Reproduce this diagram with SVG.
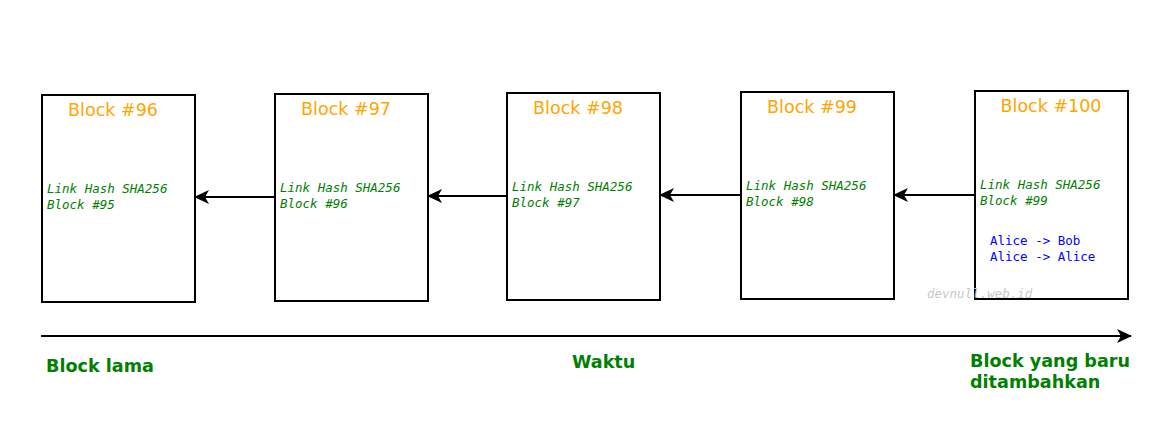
<svg xmlns="http://www.w3.org/2000/svg" width="1162" height="430" viewBox="0 0 1162 430">
<defs>
<style>
.box{fill:#fff;stroke:#000;stroke-width:2}
.title{font-family:"DejaVu Sans",sans-serif;font-size:17.5px;fill:#FFA500;text-anchor:middle}
.hash{font-family:"DejaVu Sans Mono",monospace;font-style:italic;font-size:12.5px;fill:#008000}
.tx{font-family:"DejaVu Sans Mono",monospace;font-size:12.5px;fill:#0000FF}
.wm{font-family:"DejaVu Sans Mono",monospace;font-style:italic;font-size:12.5px;fill:#C8C8C8}
.lbl{font-family:"DejaVu Sans",sans-serif;font-weight:bold;font-size:17.6px;fill:#008000}
.conn{stroke:#000;stroke-width:2;fill:none;marker-end:url(#ah)}
</style>
<marker id="ah" markerUnits="userSpaceOnUse" markerWidth="16" markerHeight="14" viewBox="0 0 16 14" refX="14" refY="7" orient="auto">
<path d="M0,0 L15,7 L0,14 L4,7 Z" fill="#000"/>
</marker>
</defs>
<rect width="1162" height="430" fill="#fff"/>
<g id="block96">
<rect class="box" x="42" y="95" width="153" height="207"/>
<text class="title" x="113" y="116">Block #96</text>
<text class="hash" x="47" y="193">Link Hash SHA256</text>
<text class="hash" x="47" y="209">Block #95</text>
</g>
<g id="block97">
<rect class="box" x="275" y="94" width="153" height="207"/>
<text class="title" x="346" y="115">Block #97</text>
<text class="hash" x="280" y="192">Link Hash SHA256</text>
<text class="hash" x="280" y="208">Block #96</text>
</g>
<g id="block98">
<rect class="box" x="507" y="93" width="153" height="207"/>
<text class="title" x="578" y="114">Block #98</text>
<text class="hash" x="512" y="191">Link Hash SHA256</text>
<text class="hash" x="512" y="207">Block #97</text>
</g>
<g id="block99">
<rect class="box" x="741" y="92" width="153" height="207"/>
<text class="title" x="812" y="113">Block #99</text>
<text class="hash" x="746" y="190">Link Hash SHA256</text>
<text class="hash" x="746" y="206">Block #98</text>
</g>
<g id="block100">
<rect class="box" x="975" y="91" width="153" height="208"/>
<text class="title" x="1051" y="112">Block #100</text>
<text class="hash" x="980" y="189">Link Hash SHA256</text>
<text class="hash" x="980" y="205">Block #99</text>
<text class="tx" x="990" y="245">Alice -&gt; Bob</text>
<text class="tx" x="990" y="261">Alice -&gt; Alice</text>
</g>
<g id="connectors">
<line class="conn" x1="275" y1="197" x2="195" y2="197"/>
<line class="conn" x1="507" y1="196" x2="428" y2="196"/>
<line class="conn" x1="741" y1="195" x2="660" y2="195"/>
<line class="conn" x1="975" y1="195" x2="894" y2="195"/>
<line class="conn" x1="41" y1="336" x2="1131" y2="336"/>
</g>
<text class="wm" x="927" y="298">devnull.web.id</text>
<g id="labels">
<text class="lbl" x="46" y="372">Block lama</text>
<text class="lbl" x="572" y="368">Waktu</text>
<text class="lbl" x="970" y="367">Block yang baru</text>
<text class="lbl" x="970" y="388">ditambahkan</text>
</g>
</svg>
